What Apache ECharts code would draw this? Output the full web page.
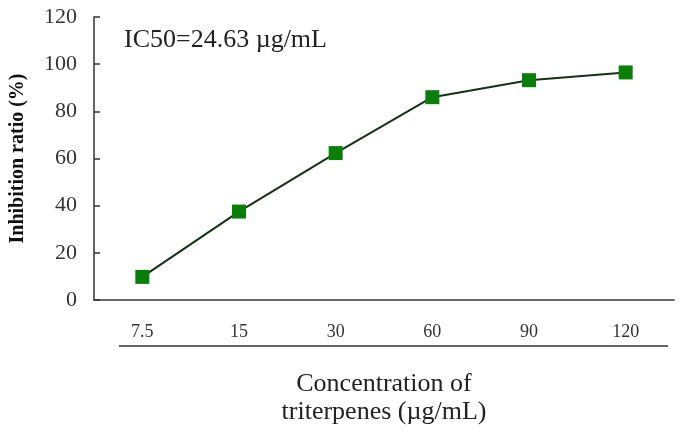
<!DOCTYPE html>
<html>
<head>
<meta charset="utf-8">
<script src="https://cdn.jsdelivr.net/npm/echarts@6/dist/echarts.min.js"></script>
<style>
  html, body { margin: 0; padding: 0; background: #fff; }
  #chart { width: 683px; height: 434px; }
</style>
</head>
<body>
<div id="chart"></div>
<script>
// concentrations (µg/mL) on the category axis
var concentrations = ['7.5', '15', '30', '60', '90', '120']
// inhibition ratio (%)
var inhibition = [9.8, 37.5, 62.3, 86, 93.2, 96.5]
var yTicks = { min: 0, max: 120, interval: 20 }

var myChart = echarts.init(document.getElementById('chart'))
var serif = 'Liberation Serif, Times New Roman, serif'

var option = {
  animation: false,
  backgroundColor: '#fff',
  grid: {
    left: 93,
    right: 9,
    top: 17,
    bottom: 134
  },
  title: {
    text: 'IC50=24.63 µg/mL',
    left: 119,
    top: 22,
    textStyle: {
      fontFamily: serif,
      fontSize: 26,
      fontWeight: 'normal',
      color: '#222'
    }
  },
  xAxis: {
    type: 'category',
    data: concentrations,
    boundaryGap: true,
    axisLine: { lineStyle: { color: '#333', width: 1.5 } },
    axisTick: { inside: true, length: 6, lineStyle: { color: '#333', width: 1.5 } },
    axisLabel: {
      margin: 23,
      fontFamily: serif,
      fontSize: 18,
      color: '#333'
    },
    name: 'Concentration of\ntriterpenes (µg/mL)',
    nameLocation: 'middle',
    nameGap: 70,
    nameTextStyle: {
      fontFamily: serif,
      fontSize: 26,
      lineHeight: 28,
      color: '#222'
    }
  },
  yAxis: {
    type: 'value',
    min: yTicks.min,
    max: yTicks.max,
    interval: yTicks.interval,
    splitLine: { show: false },
    axisLine: { show: true, lineStyle: { color: '#333', width: 1.5 } },
    axisTick: { show: true, inside: true, length: 6, lineStyle: { color: '#333', width: 1.5 } },
    axisLabel: {
      margin: 17,
      fontFamily: serif,
      fontSize: 22,
      color: '#333'
    },
    name: 'Inhibition ratio (%)',
    nameLocation: 'middle',
    nameGap: 66,
    nameTextStyle: {
      fontFamily: serif,
      fontSize: 20,
      fontWeight: 'bold',
      color: '#111'
    }
  },
  graphic: [
    {
      // underline below the category labels
      type: 'line',
      shape: { x1: 119, y1: 346, x2: 668, y2: 346 },
      style: { stroke: '#333', lineWidth: 1.5 }
    }
  ],
  series: [
    {
      type: 'line',
      data: inhibition,
      symbol: 'rect',
      symbolSize: 14,
      itemStyle: { color: '#0b7d0b' },
      lineStyle: { color: '#143214', width: 2 }
    }
  ]
}

myChart.setOption(option)
</script>
</body>
</html>
